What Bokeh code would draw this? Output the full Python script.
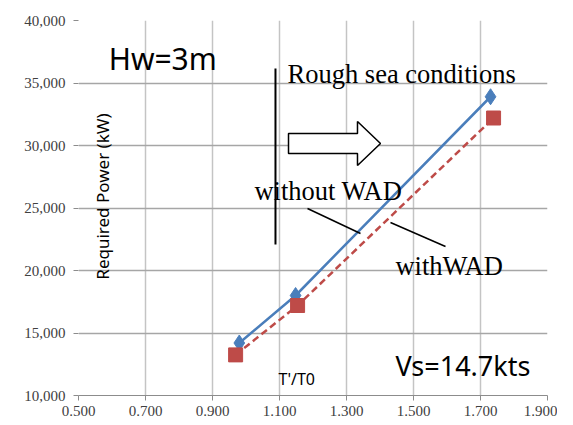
from bokeh.plotting import figure
from bokeh.models import Label, Range1d, FixedTicker, NumeralTickFormatter
from bokeh.embed import file_html
from bokeh.resources import INLINE

# data
x_without = [0.980, 1.148, 1.730]
p_without = [14200, 18000, 33900]
x_with = [0.969, 1.154, 1.739]
p_with = [13250, 17200, 32200]
x_ticks = [0.5, 0.7, 0.9, 1.1, 1.3, 1.5, 1.7, 1.9]
y_ticks = [10000, 15000, 20000, 25000, 30000, 35000, 40000]

p = figure(frame_width=469, frame_height=375, output_backend="svg", toolbar_location=None,
           x_range=Range1d(0.5, 1.9), y_range=Range1d(10000, 40000),
           min_border_left=78, min_border_top=20, min_border_right=10, min_border_bottom=5)
p.outline_line_color = None
p.background_fill_color = "white"

p.xaxis.ticker = FixedTicker(ticks=x_ticks)
p.yaxis.ticker = FixedTicker(ticks=y_ticks)
p.xaxis.formatter = NumeralTickFormatter(format="0.000")
p.yaxis.formatter = NumeralTickFormatter(format="0,0")
for ax in (p.xaxis[0], p.yaxis[0]):
    ax.major_label_text_font = "Liberation Serif"
    ax.major_label_text_font_size = "15px"
    ax.major_label_text_color = "#404040"
    ax.minor_tick_line_color = None
    ax.major_tick_in = 0
    ax.major_tick_out = 5
    ax.major_tick_line_color = "#8c8c8c"
    ax.axis_line_color = "#8c8c8c"
p.yaxis.axis_line_color = None
p.yaxis.major_label_standoff = 8
p.xaxis.major_label_standoff = 5

p.xgrid[0].ticker = FixedTicker(ticks=x_ticks)
p.ygrid[0].ticker = FixedTicker(ticks=y_ticks[:-1])
p.xgrid[0].grid_line_color = "#c4c4c4"
p.ygrid[0].grid_line_color = "#a6a6a6"
p.xgrid[0].grid_line_width = 1.5
p.ygrid[0].grid_line_width = 1.5

blue = "#4a7ebb"
red = "#be4b48"
p.line(x_without, p_without, line_color=blue, line_width=2.5)
p.scatter(x_without, p_without, marker="diamond", size=16, color=blue)
p.line(x_with, p_with, line_color=red, line_width=2.5, line_dash="7 4")
p.scatter(x_with, p_with, marker="square", size=14, color=red)

def lab(x, y, t, font, size, angle=0, align="left"):
    p.add_layout(Label(x=x, y=y, text=t, text_font=font, text_font_size=size,
                       text_baseline="middle", text_align=align, angle=angle, text_color="black"))

lab(0.590, 36960, "Hw=3m", "Noto Sans", "30px")
lab(1.124, 35760, "Rough sea conditions", "Liberation Serif", "26.5px")
lab(1.025, 26400, "without WAD", "Liberation Serif", "26.5px")
lab(1.446, 20400, "withWAD", "Liberation Serif", "26.5px")
lab(1.446, 12400, "Vs=14.7kts", "Noto Sans", "27px")
lab(1.097, 11360, "T'/T0", "Noto Sans", "16px")
lab(0.572, 25920, "Required Power (kW)", "Noto Sans", "17px", angle=1.5708, align="center")

# vertical divider and leader lines
p.line([1.088, 1.088], [36160, 22080], line_color="black", line_width=2)
p.line([1.1836, 1.3418], [24960, 22960], line_color="black", line_width=1.5)
p.line([1.4313, 1.5955], [23840, 21920], line_color="black", line_width=1.5)

# block arrow
ax_ = [1.1269, 1.3328, 1.3328, 1.4015, 1.3328, 1.3328, 1.1269]
ay_ = [30960, 30960, 31920, 30160, 28400, 29360, 29360]
p.patch(ax_, ay_, fill_color="white", line_color="black", line_width=1.5)

open("out.html", "w").write(file_html(p, INLINE))
